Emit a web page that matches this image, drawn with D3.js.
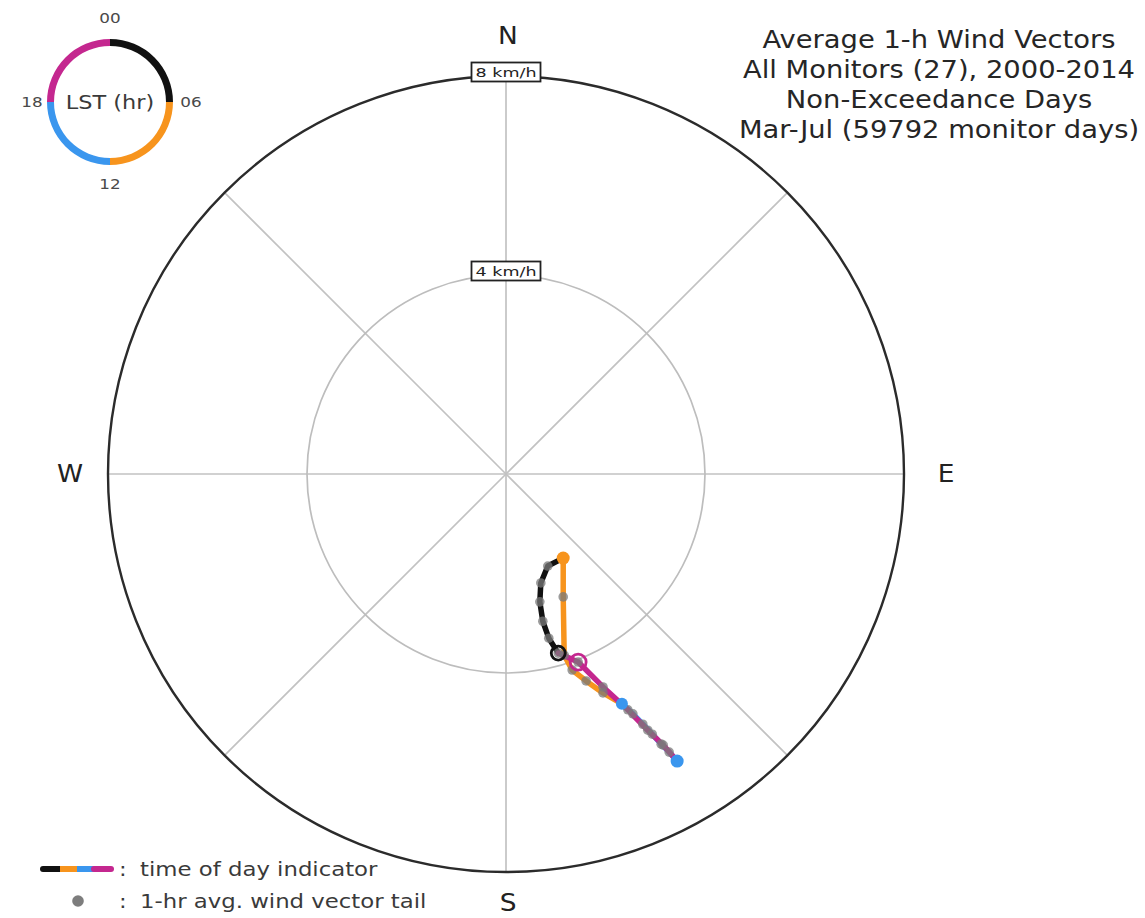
<!DOCTYPE html>
<html>
<head>
<meta charset="utf-8">
<script src="https://cdn.jsdelivr.net/npm/d3@7"></script>
<style>
  html, body { margin: 0; padding: 0; background: #fff; }
  svg { display: block; font-family: "DejaVu Sans", sans-serif; }
</style>
</head>
<body>
<svg id="chart" width="1145" height="918"></svg>
<script>
// Hourly mean wind-vector tails (km/h), hour 0..23 LST
const hours  = [0,1,2,3,4,5,6,7,8,9,10,11,12,13,14,15,16,17,18,19,20,21,22,23];
const uEast  = [1.05,0.86,0.74,0.68,0.70,0.84,1.15,1.15,1.17,1.33,1.61,1.95,2.33,2.55,2.75,2.94,3.12,3.28,3.44,3.16,2.85,2.45,1.95,1.45];
const vNorth = [-3.60,-3.30,-2.96,-2.57,-2.19,-1.85,-1.69,-2.47,-3.64,-3.94,-4.16,-4.40,-4.62,-4.82,-5.03,-5.23,-5.43,-5.59,-5.77,-5.45,-5.15,-4.74,-4.28,-3.78];

// Time-of-day quarters and their colours
const quarterNames  = ["00-06", "06-12", "12-18", "18-24"];
const quarterColors = ["#111111", "#f7941d", "#3a96ee", "#c4278f"];
const ringTickLabels = ["00", "06", "12", "18"];

// Speed rings and compass labels
const speedRings = [4, 8];
const compass = ["N", "E", "S", "W"];
const titleLines = [
  "Average 1-h Wind Vectors",
  "All Monitors (27), 2000-2014",
  "Non-Exceedance Days",
  "Mar-Jul (59792 monitor days)"
];
const legendTexts = ["time of day indicator", "1-hr avg. wind vector tail"];

const svg = d3.select("#chart");
const cx = 506, cy = 474, R = 398, maxSpeed = 8;

const r = d3.scaleLinear().domain([0, maxSpeed]).range([0, R]);
const x = d3.scaleLinear().domain([-maxSpeed, maxSpeed]).range([cx - R, cx + R]);
const y = d3.scaleLinear().domain([-maxSpeed, maxSpeed]).range([cy + R, cy - R]);

// text with a slightly widened glyph set
function label(parent, tx, ty, str, size, opts = {}) {
  const sx = opts.sx || 1.14;
  return parent.append("text")
    .attr("transform", `translate(${tx},${ty}) scale(${sx},1)`)
    .attr("text-anchor", opts.anchor || "middle")
    .attr("dy", "0.35em")
    .attr("font-size", size)
    .attr("fill", opts.fill || "#262626")
    .text(str);
}

// ---- polar grid ----
const grid = svg.append("g");
d3.range(0, 360, 45).forEach(deg => {
  const a = deg * Math.PI / 180;
  grid.append("line")
    .attr("x1", cx).attr("y1", cy)
    .attr("x2", cx + R * Math.sin(a)).attr("y2", cy - R * Math.cos(a))
    .attr("stroke", "#c2c2c2").attr("stroke-width", 1.7);
});
speedRings.forEach(s => {
  grid.append("circle")
    .attr("cx", cx).attr("cy", cy).attr("r", r(s))
    .attr("fill", "none")
    .attr("stroke", s === maxSpeed ? "#2b2b2b" : "#bdbdbd")
    .attr("stroke-width", s === maxSpeed ? 2.4 : 1.7);
});
speedRings.forEach(s => {
  const g = grid.append("g").attr("transform", `translate(${cx},${cy - r(s) - 4})`);
  g.append("rect").attr("x", -34.5).attr("y", -9.5).attr("width", 69).attr("height", 19)
    .attr("fill", "#fff").attr("stroke", "#222").attr("stroke-width", 1.8);
  label(g, 0, 0, `${s} km/h`, 13, { sx: 1.35, fill: "#222" });
});

// compass labels
const compassPos = {
  N: [cx + 2, cy - R - 40],
  E: [cx + R + 42, cy],
  S: [cx + 2, cy + R + 31],
  W: [cx - R - 38, cy]
};
compass.forEach(c => {
  label(svg, compassPos[c][0], compassPos[c][1], c, 24, { sx: 1.1, fill: "#222" });
});

// ---- hodograph of hourly tails ----
const pts = hours.map((h, i) => [x(uEast[i]), y(vNorth[i])]);
const line = d3.line();
const path = svg.append("g");
quarterNames.forEach((q, k) => {
  const seg = d3.range(k * 6, k * 6 + 7).map(i => pts[i % 24]);
  path.append("path").attr("d", line(seg))
    .attr("fill", "none").attr("stroke", quarterColors[k])
    .attr("stroke-width", 5.5).attr("stroke-linejoin", "round").attr("stroke-linecap", "round");
});
// tails
path.selectAll("circle.tail").data(pts).join("circle")
  .attr("class", "tail")
  .attr("cx", d => d[0]).attr("cy", d => d[1]).attr("r", 4.8)
  .attr("fill", "#7a7a7a").attr("fill-opacity", 0.75);
// quarter boundary markers
[[6, 1, 6.5], [12, 2, 6], [18, 2, 6.5]].forEach(([i, k, rad]) => {
  path.append("circle").attr("cx", pts[i][0]).attr("cy", pts[i][1]).attr("r", rad)
    .attr("fill", quarterColors[k]);
});
// first and last hour rings
path.append("circle").attr("cx", pts[0][0]).attr("cy", pts[0][1]).attr("r", 7)
  .attr("fill", "none").attr("stroke", quarterColors[0]).attr("stroke-width", 2.8);
path.append("circle").attr("cx", pts[23][0]).attr("cy", pts[23][1]).attr("r", 8)
  .attr("fill", "none").attr("stroke", quarterColors[3]).attr("stroke-width", 2.8);

// ---- LST clock legend ----
const clock = svg.append("g").attr("transform", "translate(110,102)");
const arc = d3.arc().innerRadius(56).outerRadius(63);
quarterColors.forEach((c, k) => {
  clock.append("path")
    .attr("d", arc({ startAngle: k * Math.PI / 2, endAngle: (k + 1) * Math.PI / 2 }))
    .attr("fill", c);
});
const tickPos = [[0, -84], [81, 0], [0, 82], [-78, 0]];
ringTickLabels.forEach((t, k) => {
  label(clock, tickPos[k][0], tickPos[k][1], t, 14, { sx: 1.2, fill: "#4a4a4a" });
});
label(clock, 0, 0, "LST (hr)", 20, { sx: 1.12, fill: "#3a3a3a" });

// ---- title ----
titleLines.forEach((t, i) => {
  label(svg, 939, 40 + i * 30, t, 24, { sx: 1.14 });
});

// ---- bottom legend ----
const leg = svg.append("g");
const barX = d3.scaleLinear().domain([0, 4]).range([43, 111]);
quarterColors.forEach((c, k) => {
  leg.append("line").attr("x1", barX(k)).attr("x2", barX(k + 1))
    .attr("y1", 869).attr("y2", 869)
    .attr("stroke", c).attr("stroke-width", 6)
    .attr("stroke-linecap", k === 0 || k === 3 ? "round" : "butt");
});
leg.append("circle").attr("cx", 78).attr("cy", 901).attr("r", 5.8).attr("fill", "#7d7d7d");
legendTexts.forEach((t, i) => {
  const yy = 869 + i * 32;
  label(leg, 119, yy, ":", 20, { anchor: "start", sx: 1.14, fill: "#3a3a3a" });
  label(leg, 140, yy, t, 20, { anchor: "start", sx: 1.14, fill: "#3a3a3a" });
});
</script>
</body>
</html>
